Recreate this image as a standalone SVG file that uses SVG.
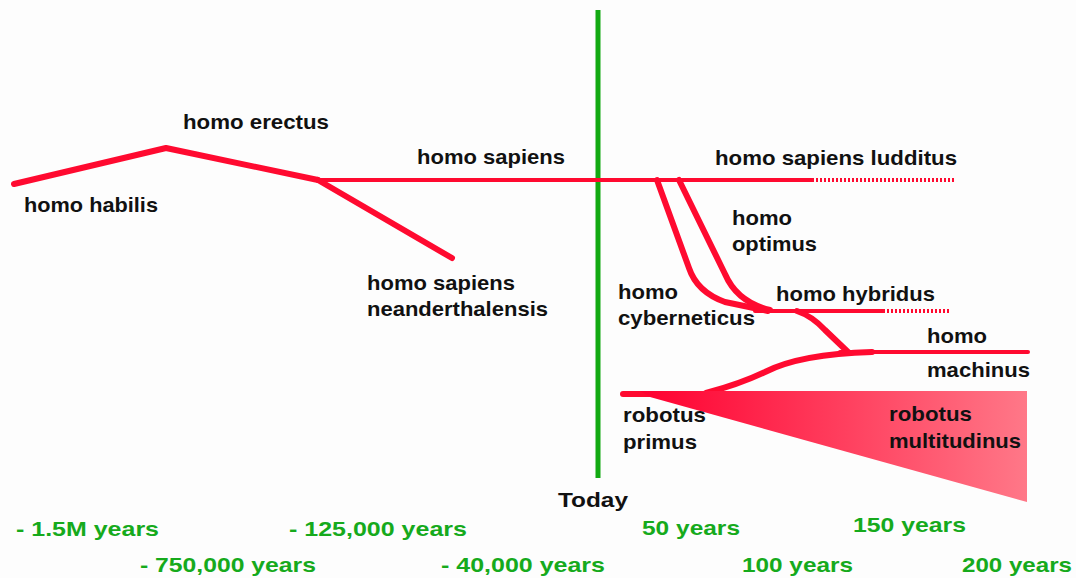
<svg xmlns="http://www.w3.org/2000/svg" width="1076" height="578" viewBox="0 0 1076 578">
<defs>
<linearGradient id="tri" x1="640" y1="0" x2="1028" y2="0" gradientUnits="userSpaceOnUse">
<stop offset="0" stop-color="#ff0030"/>
<stop offset="1" stop-color="#ff7888"/>
</linearGradient>
<style>
text{font-family:"Liberation Sans",Arial,sans-serif;font-weight:bold;font-size:21px;fill:#111}
.g{fill:#16aa1c}
.ln{fill:none;stroke:#ff0a30;stroke-linecap:round;stroke-linejoin:round}
.thick{stroke-width:6}
.thin{stroke-width:4}
.dash{fill:none;stroke:#ff0a30;stroke-width:4;stroke-dasharray:2 2}
</style>
</defs>
<rect width="1076" height="578" fill="#fdfdfd"/>
<g id="today-axis">
<line x1="598" y1="10" x2="598" y2="478" stroke="#12aa12" stroke-width="5"/>
<text x="558" y="507" textLength="70" lengthAdjust="spacingAndGlyphs">Today</text>
</g>
<g id="connectors">
<polyline class="ln thick" points="14,184 166,148 318,180"/>
<line class="ln thick" x1="318" y1="180" x2="452" y2="258"/>
<line class="ln thin" x1="318" y1="180" x2="812" y2="180"/>
<line class="dash" x1="812" y1="180" x2="955" y2="180"/>
<path class="ln thick" d="M657,180 L689,268 Q697,292 725,302 L768,311"/>
<path class="ln thick" d="M679,180 L725,274 Q737,302 770,310"/>
<line class="ln thin" x1="755" y1="311" x2="883" y2="311"/>
<line class="dash" x1="883" y1="311" x2="950" y2="311"/>
<path class="ln thick" d="M797,311 Q812,316 825,330 L848,352"/>
<line class="ln thin" x1="840" y1="352" x2="1028" y2="352"/>
<path class="ln thick" d="M706,393 Q740,384 765,372 Q800,354 872,352"/>
<line class="ln thick" x1="623" y1="394" x2="650" y2="394" stroke-linecap="butt"/>
<polygon points="640,391 1027,391 1027,502 650,397" fill="url(#tri)"/>
</g>
<g id="homo-habilis"><text x="24" y="212" textLength="134" lengthAdjust="spacingAndGlyphs">homo habilis</text></g>
<g id="homo-erectus"><text x="183" y="129" textLength="146" lengthAdjust="spacingAndGlyphs">homo erectus</text></g>
<g id="homo-sapiens"><text x="417" y="164" textLength="148" lengthAdjust="spacingAndGlyphs">homo sapiens</text></g>
<g id="neanderthalensis"><text x="367" y="290" textLength="148" lengthAdjust="spacingAndGlyphs">homo sapiens</text><text x="367" y="316" textLength="181" lengthAdjust="spacingAndGlyphs">neanderthalensis</text></g>
<g id="ludditus"><text x="715" y="165" textLength="242" lengthAdjust="spacingAndGlyphs">homo sapiens ludditus</text></g>
<g id="optimus"><text x="732" y="225" textLength="60" lengthAdjust="spacingAndGlyphs">homo</text><text x="732" y="251" textLength="85" lengthAdjust="spacingAndGlyphs">optimus</text></g>
<g id="cyberneticus"><text x="618" y="299" textLength="60" lengthAdjust="spacingAndGlyphs">homo</text><text x="618" y="325" textLength="137" lengthAdjust="spacingAndGlyphs">cyberneticus</text></g>
<g id="hybridus"><text x="776" y="301" textLength="159" lengthAdjust="spacingAndGlyphs">homo hybridus</text></g>
<g id="machinus"><text x="927" y="343" textLength="60" lengthAdjust="spacingAndGlyphs">homo</text><text x="927" y="377" textLength="103" lengthAdjust="spacingAndGlyphs">machinus</text></g>
<g id="robotus-primus"><text x="623" y="422" textLength="83" lengthAdjust="spacingAndGlyphs">robotus</text><text x="623" y="449" textLength="74" lengthAdjust="spacingAndGlyphs">primus</text></g>
<g id="robotus-multitudinus"><text x="889" y="421" textLength="83" lengthAdjust="spacingAndGlyphs">robotus</text><text x="889" y="448" textLength="132" lengthAdjust="spacingAndGlyphs">multitudinus</text></g>
<g id="timeline">
<text class="g" x="16" y="536" textLength="143" lengthAdjust="spacingAndGlyphs">- 1.5M years</text>
<text class="g" x="289" y="536" textLength="178" lengthAdjust="spacingAndGlyphs">- 125,000 years</text>
<text class="g" x="140" y="572" textLength="176" lengthAdjust="spacingAndGlyphs">- 750,000 years</text>
<text class="g" x="441" y="572" textLength="164" lengthAdjust="spacingAndGlyphs">- 40,000 years</text>
<text class="g" x="642" y="535" textLength="98" lengthAdjust="spacingAndGlyphs">50 years</text>
<text class="g" x="853" y="532" textLength="113" lengthAdjust="spacingAndGlyphs">150 years</text>
<text class="g" x="742" y="572" textLength="111" lengthAdjust="spacingAndGlyphs">100 years</text>
<text class="g" x="962" y="572" textLength="110" lengthAdjust="spacingAndGlyphs">200 years</text>
</g>
</svg>
